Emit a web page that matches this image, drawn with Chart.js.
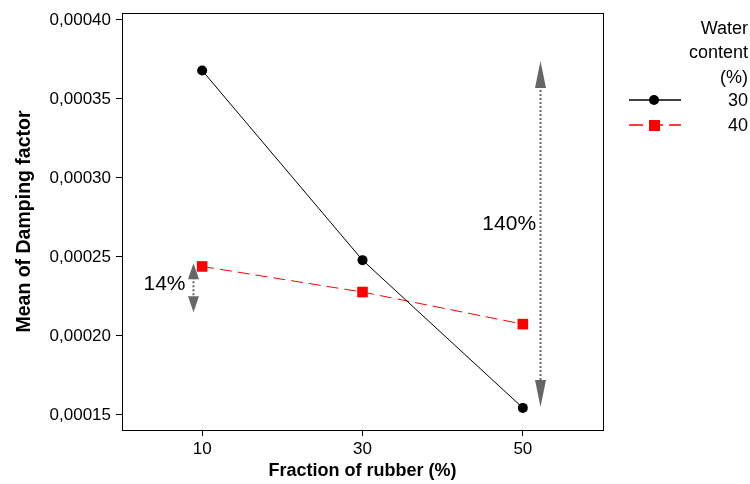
<!DOCTYPE html>
<html>
<head>
<meta charset="utf-8">
<script src="https://cdn.jsdelivr.net/npm/chart.js@4"></script>
<style>
  html, body { margin: 0; padding: 0; background: #fff; }
  #wrap { width: 750px; height: 484px; }
</style>
</head>
<body>
<div id="wrap"><canvas id="dampChart"></canvas></div>
<script>
  // Chart data
  const rubberFractions = [10, 30, 50];
  const water30 = [0.000368, 0.000248, 0.0001545];
  const water40 = [0.000244, 0.0002278, 0.0002075];
  const seriesLabels = ['30', '40'];
  const legendTitle = ['Water', 'content', '(%)'];
  const yTickValues = [0.00015, 0.00020, 0.00025, 0.00030, 0.00035, 0.00040];
  const xTickValues = [10, 30, 50];

  // Arrows: [x, yTop, yBottom, head length], labels: [text, x, y]
  const arrow14 = [8.9, 0.000246, 0.000215, 16];
  const arrow140 = [52.2, 0.000374, 0.000155, 27];
  const label14 = ['14%', 5.3, 0.000233];
  const label140 = ['140%', 48.3, 0.000271];

  const FONT = '"Liberation Sans", Arial, sans-serif';

  const toPoints = (ys) => ys.map((y, i) => ({ x: rubberFractions[i], y: y }));

  // Box around the plot
  const framePlugin = {
    id: 'frame',
    afterDatasetsDraw(chart) {
      const { ctx, chartArea: a } = chart;
      ctx.save();
      ctx.strokeStyle = '#000';
      ctx.lineWidth = 1;
      ctx.strokeRect(Math.round(a.left) + 0.5, Math.round(a.top) + 0.5,
        Math.round(a.right - a.left), Math.round(a.bottom - a.top));
      ctx.restore();
    }
  };

  // Dotted double arrows + percent text
  const arrowPlugin = {
    id: 'arrows',
    afterDatasetsDraw(chart) {
      const { ctx } = chart;
      const xs = chart.scales.x, ys = chart.scales.y;
      function drawArrow(a) {
        const x = Math.round(xs.getPixelForValue(a[0])) + 0.5;
        const y1 = ys.getPixelForValue(a[1]);
        const y2 = ys.getPixelForValue(a[2]);
        const headLen = a[3], headW = 5.5;
        ctx.save();
        ctx.strokeStyle = '#666';
        ctx.lineWidth = 2;
        ctx.setLineDash([2, 2]);
        ctx.beginPath();
        ctx.moveTo(x, y1 + headLen - 2);
        ctx.lineTo(x, y2 - headLen + 2);
        ctx.stroke();
        ctx.setLineDash([]);
        ctx.fillStyle = '#666';
        ctx.beginPath();
        ctx.moveTo(x, y1);
        ctx.lineTo(x - headW, y1 + headLen);
        ctx.lineTo(x + headW, y1 + headLen);
        ctx.closePath();
        ctx.fill();
        ctx.beginPath();
        ctx.moveTo(x, y2);
        ctx.lineTo(x - headW, y2 - headLen);
        ctx.lineTo(x + headW, y2 - headLen);
        ctx.closePath();
        ctx.fill();
        ctx.restore();
      }
      function drawText(t) {
        ctx.save();
        ctx.fillStyle = '#000';
        ctx.font = '21px ' + FONT;
        ctx.textAlign = 'center';
        ctx.textBaseline = 'middle';
        ctx.fillText(t[0], xs.getPixelForValue(t[1]), ys.getPixelForValue(t[2]));
        ctx.restore();
      }
      drawArrow(arrow14);
      drawArrow(arrow140);
      drawText(label14);
      drawText(label140);
    }
  };

  // Legend on the right, text right-aligned
  const sideLegend = {
    id: 'sideLegend',
    afterDraw(chart) {
      const { ctx } = chart;
      const right = 748;
      ctx.save();
      ctx.fillStyle = '#000';
      ctx.font = '18px ' + FONT;
      ctx.textAlign = 'right';
      ctx.textBaseline = 'middle';
      legendTitle.forEach((t, i) => ctx.fillText(t, right, 29 + i * 24.5));
      chart.data.datasets.forEach((ds, i) => {
        const y = 101 + i * 25;
        ctx.fillStyle = '#000';
        ctx.fillText(seriesLabels[i], right, y);
        ctx.strokeStyle = ds.borderColor;
        ctx.lineWidth = 1.5;
        ctx.setLineDash(ds.borderDash ? [14, 6] : []);
        ctx.beginPath();
        ctx.moveTo(629, y - 1);
        ctx.lineTo(681, y - 1);
        ctx.stroke();
        ctx.setLineDash([]);
        ctx.fillStyle = ds.pointBackgroundColor;
        if (ds.pointStyle === 'rect') {
          ctx.fillRect(649, y - 6, 11, 11);
        } else {
          ctx.beginPath();
          ctx.arc(654, y - 1, 5, 0, Math.PI * 2);
          ctx.fill();
        }
      });
      ctx.restore();
    }
  };

  const ctx = document.getElementById('dampChart').getContext('2d');

  const dampChart = new Chart(ctx, {
    type: 'line',
    data: {
      datasets: [
        {
          label: seriesLabels[0],
          data: toPoints(water30),
          borderColor: '#000',
          borderWidth: 1,
          pointStyle: 'circle',
          pointRadius: 5,
          pointBackgroundColor: '#000',
          pointBorderColor: '#000',
          pointBorderWidth: 0
        },
        {
          label: seriesLabels[1],
          data: toPoints(water40),
          borderColor: '#ff0000',
          borderWidth: 1,
          borderDash: [12, 6],
          pointStyle: 'rect',
          pointRadius: 7.5,
          pointBackgroundColor: '#ff0000',
          pointBorderColor: '#ff0000',
          pointBorderWidth: 0
        }
      ]
    },
    options: {
      responsive: true,
      maintainAspectRatio: false,
      animation: false,
      layout: {
        padding: { top: 13, right: 147, left: 0, bottom: 0 }
      },
      plugins: {
        legend: { display: false },
        tooltip: { enabled: false }
      },
      scales: {
        x: {
          type: 'linear',
          min: 0,
          max: 60,
          afterBuildTicks: (s) => { s.ticks = xTickValues.map(v => ({ value: v })); },
          afterFit: (s) => { s.height = 54; },
          grid: { display: true, drawOnChartArea: false, drawTicks: true, tickLength: 6, color: '#000' },
          border: { display: true, color: '#000' },
          ticks: { color: '#000', font: { family: FONT, size: 17 }, padding: 3, maxRotation: 0 },
          title: {
            display: true,
            text: 'Fraction of rubber (%)',
            color: '#000',
            font: { family: FONT, size: 18, weight: 'bold' },
            padding: { top: 0, bottom: 2 }
          }
        },
        y: {
          type: 'linear',
          min: 0.0001405,
          max: 0.0004044,
          afterBuildTicks: (s) => { s.ticks = yTickValues.map(v => ({ value: v })); },
          afterFit: (s) => { s.width = 122; s.paddingTop = 0; s.paddingBottom = 0; },
          grid: { display: true, drawOnChartArea: false, drawTicks: true, tickLength: 6, color: '#000' },
          border: { display: true, color: '#000' },
          ticks: {
            color: '#000',
            font: { family: FONT, size: 17, lineHeight: 1 },
            padding: 5,
            callback: (v) => v.toFixed(5).replace('.', ',')
          },
          title: {
            display: true,
            text: 'Mean of Damping factor',
            color: '#000',
            font: { family: FONT, size: 19.5, weight: 'bold' },
            padding: { top: 13, bottom: 0 }
          }
        }
      }
    },
    plugins: [framePlugin, arrowPlugin, sideLegend]
  });
</script>
</body>
</html>
